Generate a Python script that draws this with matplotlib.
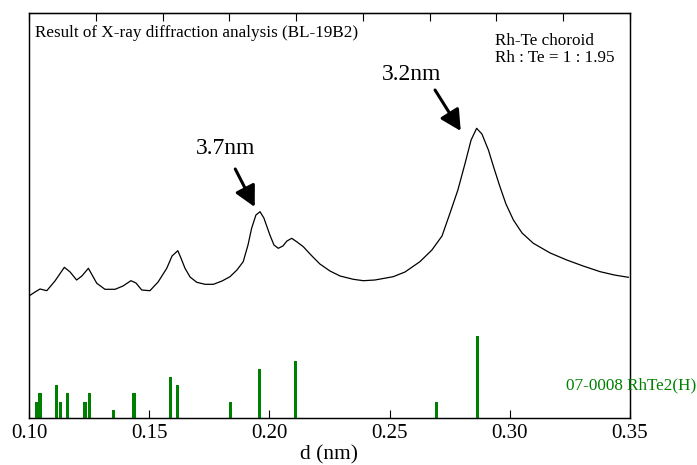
import matplotlib
matplotlib.use('Agg')
import matplotlib.pyplot as plt
import numpy as np

# XRD profile (d in nm, intensity in arbitrary units)
d_curve = [0.1000, 0.1025, 0.1046, 0.1074, 0.1108, 0.1147, 0.1171, 0.1198, 0.1220,
           0.1247, 0.1282, 0.1316, 0.1358, 0.1391, 0.1424, 0.1445, 0.1469, 0.1503,
           0.1537, 0.1573, 0.1595, 0.1619, 0.1632, 0.1649, 0.1670, 0.1698, 0.1732,
           0.1767, 0.1803, 0.1836, 0.1865, 0.1891, 0.1911, 0.1926, 0.1944, 0.1961,
           0.1977, 0.2002, 0.2019, 0.2037, 0.2056, 0.2073, 0.2093, 0.2115, 0.2141,
           0.2173, 0.2210, 0.2252, 0.2294, 0.2349, 0.2391, 0.2439, 0.2515, 0.2564,
           0.2626, 0.2676, 0.2718, 0.2751, 0.2784, 0.2814, 0.2839, 0.2862, 0.2884,
           0.2911, 0.2934, 0.2959, 0.2984, 0.3015, 0.3051, 0.3098, 0.3168, 0.3237,
           0.3305, 0.3376, 0.3435, 0.3493]
i_curve = [122, 126, 129, 127.3, 137, 150.7, 146, 138, 142,
           149.7, 134.7, 128.7, 128.7, 132, 137.3, 135, 128, 127.3,
           136, 149.7, 162, 167.3, 160, 149.7, 141, 135.7, 133.7,
           133.7, 137, 141.3, 148, 156.3, 173, 189.7, 203, 206.3,
           200, 183, 173, 169.7, 172, 177, 179.7, 176, 171.3,
           163, 154, 147, 142, 138.7, 137.3, 138, 141.3, 146,
           156.3, 168, 182, 204.7, 228, 254.7, 278, 289.7, 284,
           268, 250, 231.3, 214, 198, 185, 174.7, 165, 158,
           152, 146.3, 143, 140.7]

# reference pattern 07-0008 RhTe2(H): d (nm) and relative intensity
d_ref = [0.1032, 0.1046, 0.1114, 0.1132, 0.1159, 0.1233, 0.1251, 0.1352,
         0.1437, 0.1588, 0.1619, 0.1837, 0.1957, 0.2107, 0.2696, 0.2864]
i_ref = [2, 3, 4, 2, 3, 2, 3, 1, 3, 5, 4, 2, 6, 7, 2, 10]

serif = ['Liberation Serif', 'DejaVu Serif']
plt.rcParams['font.family'] = serif

fig = plt.figure(figsize=(6.97, 4.65), dpi=100)
ax = fig.add_axes([29/697, 47/465, 601/697, 405/465])

ax.plot(d_curve, i_curve, color='black', lw=0.9)
ax.set_xlim(0.10, 0.35)
ax.set_ylim(0, 405)

# stick pattern on its own scale
axb = ax.twinx()
axb.bar(d_ref, i_ref, width=0.0013, color='#008000')
axb.set_ylim(0, 49.4)
axb.set_yticks([])

ax.set_yticks([])
ax.set_xticks([0.10, 0.15, 0.20, 0.25, 0.30, 0.35])
ax.set_xticklabels(['0.10', '0.15', '0.20', '0.25', '0.30', '0.35'])
ax.tick_params(axis='x', direction='in', length=6, width=0.8, labelsize=15, pad=4)
ax.set_xlabel('d (nm)', fontsize=15.5, labelpad=2)

top = ax.secondary_xaxis('top')
top.set_xticks(np.linspace(0.10, 0.35, 10))
top.set_xticklabels([])
top.tick_params(direction='in', length=6, width=0.8)

for a in (ax, axb):
    for s in a.spines.values():
        s.set_linewidth(0.9)

ax.text(6/601, 1 - 20/405, 'Result of X-ray diffraction analysis (BL-19B2)',
        transform=ax.transAxes, fontsize=12.3, va='center', ha='left')
ax.text((495-29)/601, 1 - 28/405, 'Rh-Te choroid', transform=ax.transAxes,
        fontsize=12.3, va='center', ha='left')
ax.text((495-29)/601, 1 - 45/405, 'Rh : Te = 1 : 1.95', transform=ax.transAxes,
        fontsize=12.3, va='center', ha='left')

fig.text(1 - 1/697, 1 - 385/465, '07-0008 RhTe2(H)', color='#008000',
         fontsize=12.3, ha='right', va='center')

arrow = dict(arrowstyle='-|>,head_length=1.25,head_width=0.65', color='black', lw=2.2,
             shrinkA=0, shrinkB=0)
ax.text(0.1819, 418 - 149, '3.7nm', fontsize=17, ha='center', va='center')
ax.annotate('', xy=(0.1939, 418 - 207), xytext=(0.1858, 418 - 169), arrowprops=arrow)
ax.text(0.2591, 418 - 75, '3.2nm', fontsize=17, ha='center', va='center')
ax.annotate('', xy=(0.2796, 418 - 131), xytext=(0.2689, 418 - 90), arrowprops=arrow)

fig.savefig('out.png', dpi=100)
